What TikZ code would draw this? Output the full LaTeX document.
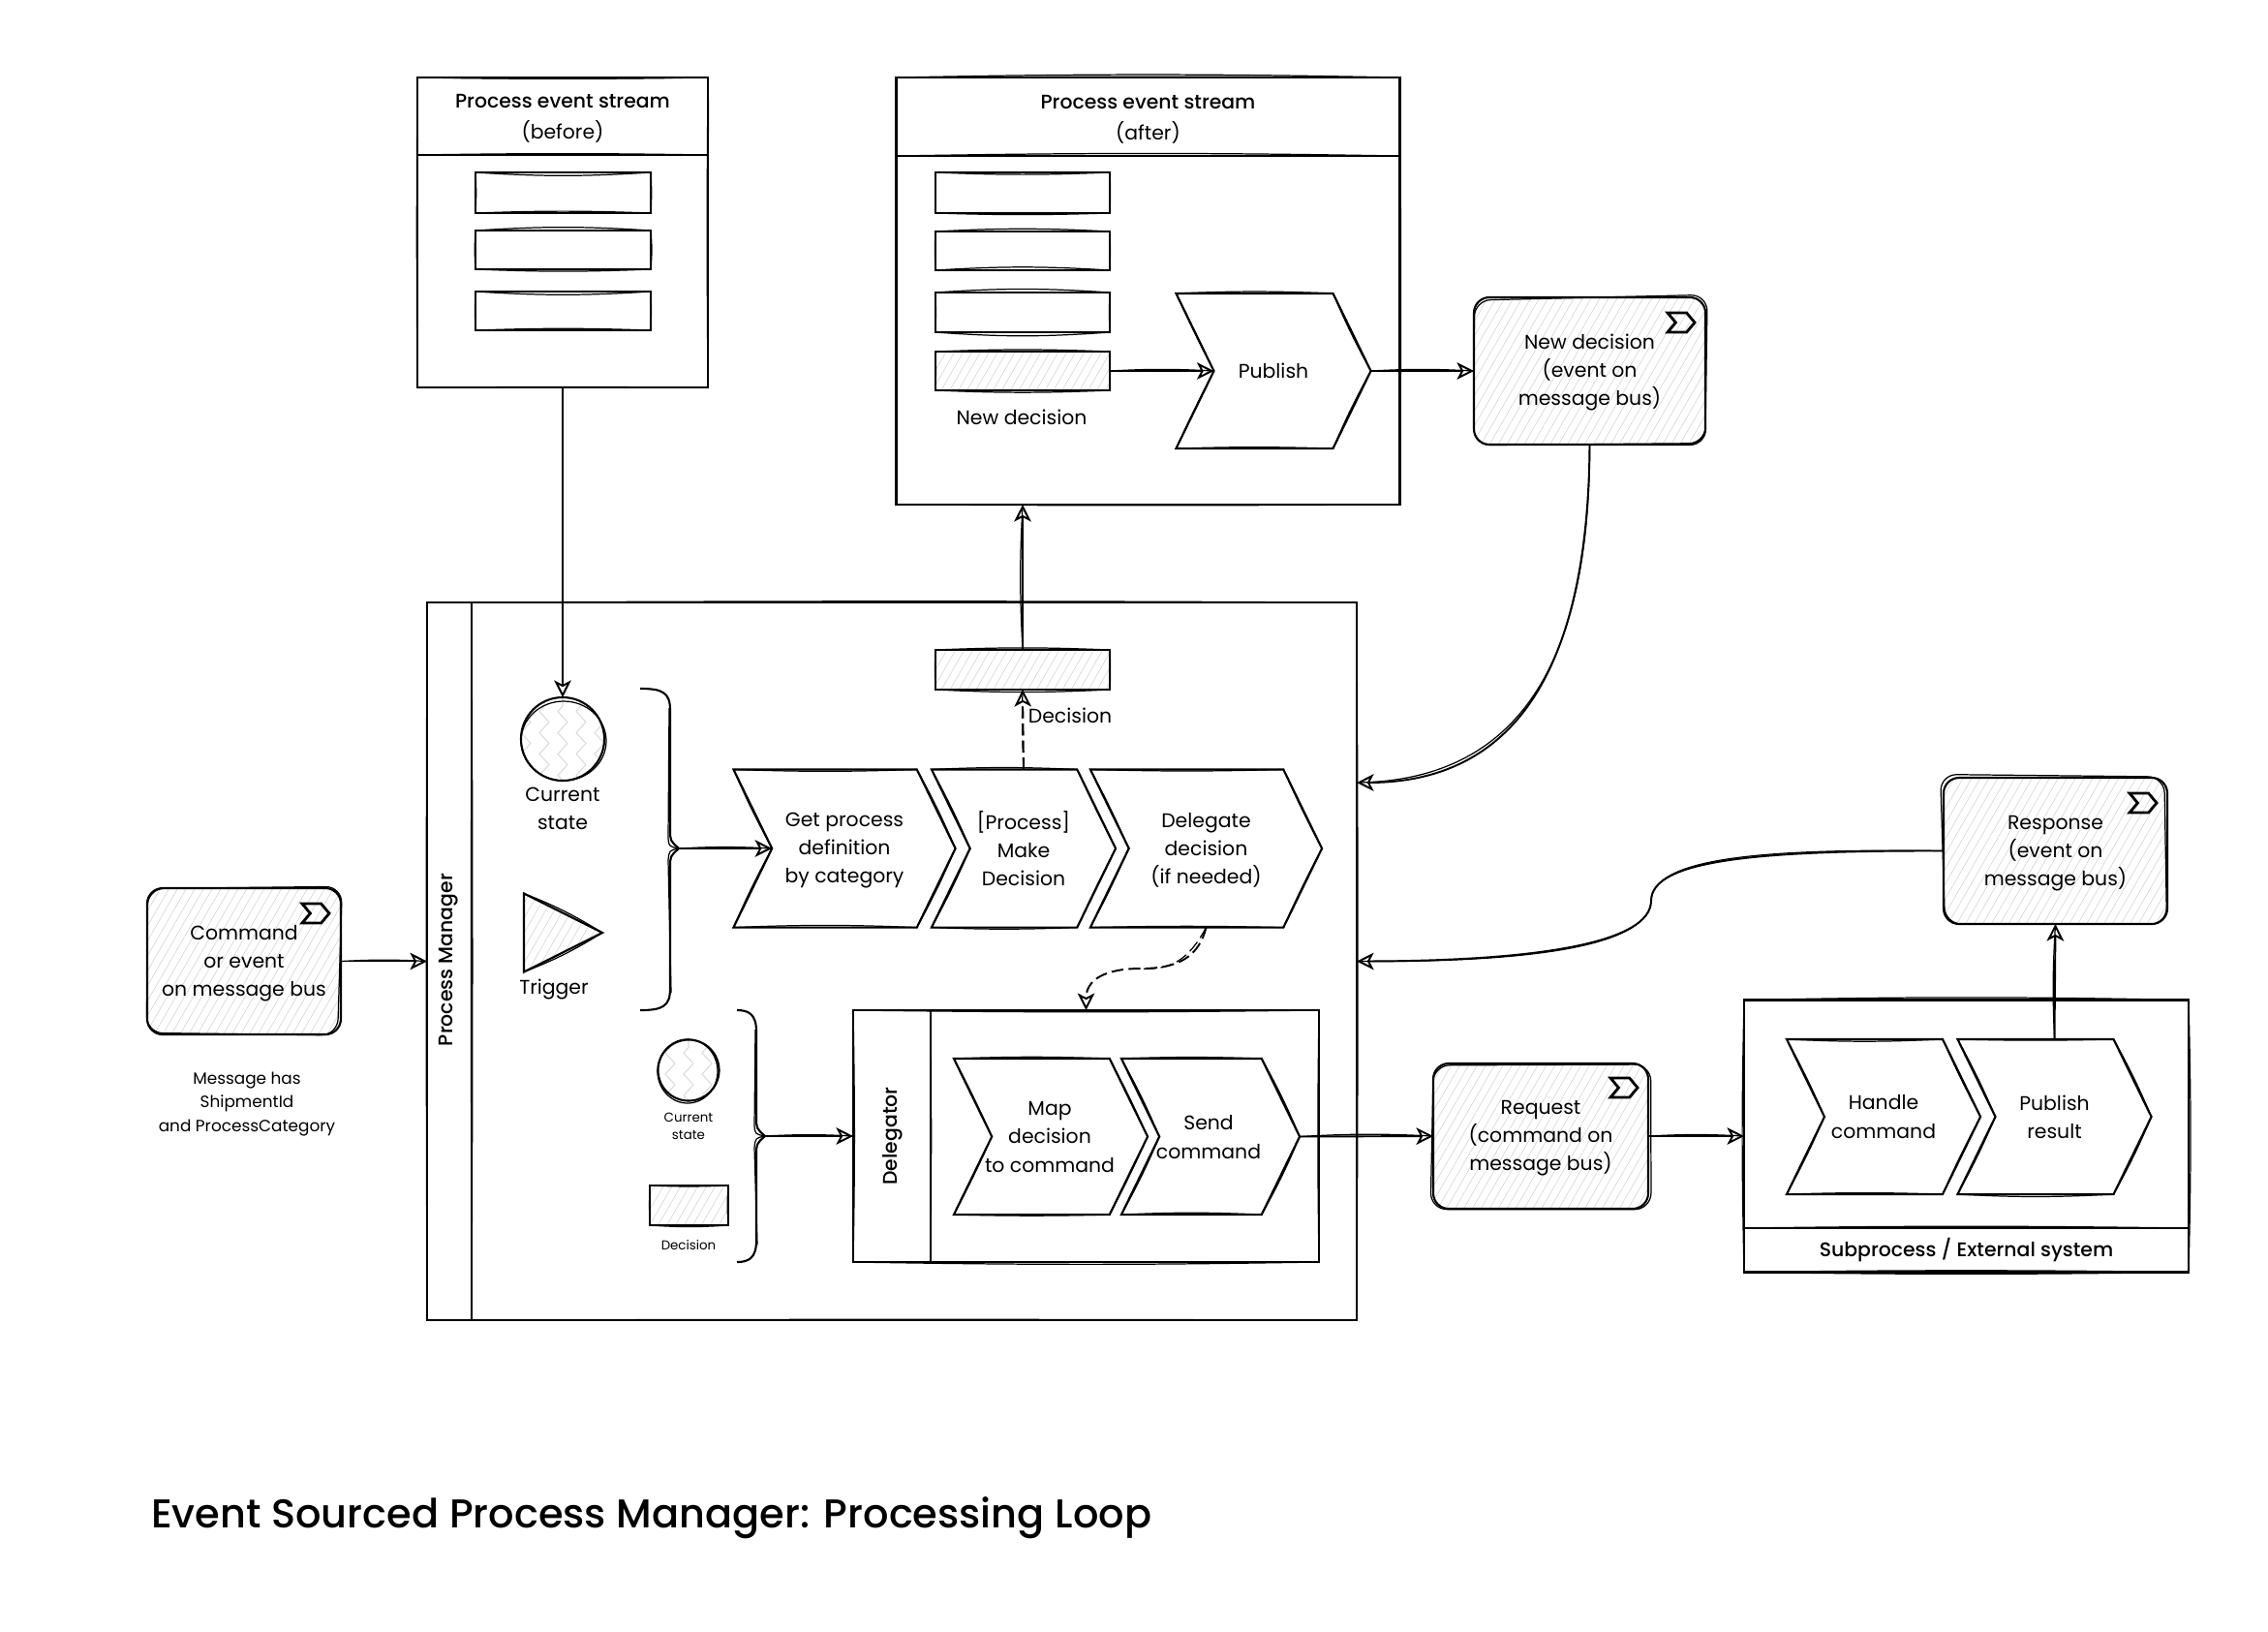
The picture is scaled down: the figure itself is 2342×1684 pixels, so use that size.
\documentclass[tikz,border=0pt]{standalone}
\usepackage{fontspec}
\setmainfont{Poppins}
\newfontfamily\medfont{Poppins Medium}
\usetikzlibrary{positioning, calc, arrows.meta, shapes.geometric, shapes.symbols, patterns.meta, decorations.pathmorphing}

\newcommand{\bodyfont}{\fontsize{5.8}{8.3}\selectfont}
\newcommand{\notefont}{\fontsize{4.8}{6.9}\selectfont}
\newcommand{\tinyfont}{\fontsize{3.8}{5.2}\selectfont}
\newcommand{\titlefont}{\fontsize{11.8}{14}\selectfont}
\newcommand{\firstline}{\vphantom{[}}

% bracket with a tip on the right: name, x start, x spine, y top, y tip, y bottom
\newcommand{\bracket}[6]{
    \draw[outline] (#2,#4) .. controls (#3-8,#4) and (#3,#4+4) .. (#3,#4+22)
        -- (#3,#5-20) .. controls (#3,#5-8) .. (#3+9,#5)
        .. controls (#3,#5+8) .. (#3,#5+20)
        -- (#3,#6-22) .. controls (#3,#6-4) and (#3-8,#6) .. (#2,#6);
    \draw[ghost] (#3-1,#4+20) -- (#3-2,#5-10) .. controls (#3-1,#5-2) .. (#3+9,#5)
        .. controls (#3-1,#5+2) .. (#3-2,#5+12) -- (#3+1,#6-18);
    \coordinate (#1) at (#3+9,#5);
}

% random bend of a second stroke: macro, largest bend
\newcommand{\pickbend}[2]{\pgfmathsetmacro#1{#2*(.4+.6*rnd)*ifthenelse(rnd<.5,1,-1)}}

% second pencil stroke on the sides of a box: node, bend
\newcommand{\roughbox}[2]{
    \pickbend\bnda{#2}
    \pickbend\bndb{#2}
    \pickbend\bndc{#2}
    \pickbend\bndd{#2}
    \draw[ghost] (#1.north west) to[bend left=\bnda] (#1.north east)
        to[bend left=\bndb] (#1.south east)
        to[bend left=\bndc] (#1.south west)
        to[bend left=\bndd] (#1.north west);
}

% same for a chevron
\newcommand{\roughchev}[2]{
    \pickbend\bnda{#2}
    \pickbend\bndb{#2}
    \pickbend\bndc{#2}
    \pickbend\bndd{#2}
    \draw[ghost] (#1.north west) to[bend left=\bnda] (#1.north east)
        to[bend left=\bndb] (#1.east)
        to[bend left=\bndb] (#1.south east)
        to[bend left=\bndc] (#1.south west)
        to[bend left=\bndd] (#1.west)
        to[bend left=\bndd] (#1.north west);
}

% second stroke on a rounded box
\newcommand{\roughmsg}[1]{
    \draw[ghost, rounded corners=.17cm]
        ($(#1.north west)+({rnd*7-3.5},{rnd*7-3.5})$) -- ($(#1.north east)+({rnd*7-3.5},{rnd*7-3.5})$)
        -- ($(#1.south east)+({rnd*7-3.5},{rnd*7-3.5})$) -- ($(#1.south west)+({rnd*7-3.5},{rnd*7-3.5})$) -- cycle;
}

\tikzset{
    outline/.style={draw, line width=.6pt},
    ghost/.style={draw, line width=.35pt},
    wh/.style 2 args={minimum width=#1*0.01cm, minimum height=#2*0.01cm},
    box/.style={outline, rectangle, anchor=north west, inner sep=0, outer sep=0, align=center, font=\bodyfont},
    hatch/.style={pattern={Lines[angle=60, distance=2.2pt, line width=.12pt]}, pattern color=black!22},
    msgbox/.style={box, hatch, rounded corners=.16cm},
    chevron/.style={outline, shape=signal, signal to=east, signal from=west, signal pointer angle=128,
        inner sep=0, outer sep=0, align=center, font=\bodyfont},
    flagicon/.style={draw, line width=.8pt, shape=signal, signal to=east, signal from=west, signal pointer angle=100,
        inner sep=0, outer sep=0, minimum width=.28cm, minimum height=.2cm},
    statecircle/.style={outline, circle, inner sep=0, outer sep=0,
        path picture={\foreach \i in {-2,...,2}
            \draw[black!14, line width=.3pt, decorate, decoration={zigzag, segment length=.22cm, amplitude=.05cm}]
                ($(path picture bounding box.south)+(\i*.19cm,0)$) -- ($(path picture bounding box.north)+(\i*.19cm,0)$);}},
    txt/.style={inner sep=0, outer sep=0, align=center, font=\bodyfont},
    link/.style={line width=.55pt, -{Stealth[fill=white, length=5pt, width=5pt, inset=1.3pt]}},
    dashlink/.style={link, dash pattern=on 3.5pt off 1.5pt}
}

\begin{document}
\begin{tikzpicture}[x=0.01cm, y=-0.01cm]
    \pgfmathsetseed{11}
    \useasboundingbox (0,0) rectangle (2342,1684);

    % stream before
    \node (beforebody) [box, wh={300}{320}] at (431,80) {};
    \node (beforehead) [box, wh={300}{80}] at (431,80) {\firstline{\medfont Process event stream}\\[.8pt](before)};
    \node (beforeone) [box, wh={181}{42}] at (491,178) {};
    \node (beforetwo) [box, wh={181}{40}] at (491,238) {};
    \node (beforethree) [box, wh={181}{40}] at (491,301) {};

    % stream after
    \node (afterbody) [box, wh={520}{441}] at (925.5,80) {};
    \node (afterhead) [box, wh={520}{81}] at (925.5,80) {\firstline{\medfont Process event stream}\\[.8pt](after)};
    \node (afterone) [box, wh={180}{42}] at (966,178) {};
    \node (aftertwo) [box, wh={180}{40}] at (966,239) {};
    \node (afterthree) [box, wh={180}{41}] at (966,302) {};
    \node (afternew) [box, hatch, wh={180}{40}] at (966,363) {};
    \node (afternewlabel) [txt] at (1055,431) {New decision};
    \node (publish) [chevron, minimum width=2.01cm, minimum height=1.6cm] at (1315,383) {Publish};

    % new decision on the bus
    \node (newmsg) [msgbox, wh={239}{152}] at (1522,307) {\firstline New decision\\(event on\\message bus)};
    \node (newflag) [flagicon] at (1736,333) {};

    % process manager
    \node (pmbox) [box, wh={914}{741}] at (487,622) {};
    \node (pmstrip) [box, wh={46}{741}] at (441,622) {};
    \node (pmlabel) [txt, rotate=90, font=\bodyfont\medfont] at (463,991) {Process Manager};

    \node (bigstate) [statecircle, minimum size=.86cm] at (581,763) {};
    \node (bigstatelabel) [txt] at (581,835) {Current\\state};
    \node (trigger) [outline, hatch, isosceles triangle, isosceles triangle stretches, shape border rotate=0,
        minimum width=.81cm, minimum height=.81cm, inner sep=0, outer sep=0, anchor=apex] at (622,963) {};
    \node (triggerlabel) [txt] at (572,1021) {Trigger};
    \bracket{inbrace}{661}{692}{711}{876}{1043}

    \node (getdef) [chevron, minimum width=2.29cm, minimum height=1.63cm] at (872,876) {\firstline Get process\\definition\\by category};
    \node (makedec) [chevron, minimum width=1.9cm, minimum height=1.63cm] at (1057,876) {[Process]\\Make\\Decision};
    \node (delegate) [chevron, minimum width=2.39cm, minimum height=1.63cm] at (1245.5,876) {\firstline Delegate\\decision\\(if needed)};

    \node (decrect) [box, hatch, wh={180}{41}] at (966,671) {};
    \node (declabel) [txt] at (1105,739) {Decision};

    % delegator
    \node (dlgbox) [box, wh={481}{260}] at (881,1043) {};
    \node (dlgstrip) [box, wh={80}{260}] at (881,1043) {};
    \node (dlglabel) [txt, rotate=90, font=\bodyfont\medfont] at (921.5,1173) {Delegator};
    \node (mapcmd) [chevron, minimum width=2cm, minimum height=1.61cm] at (1085,1173.5) {};
    \node (maptext) [txt] at (1084,1174) {Map\\decision\\to command};
    \node (sendcmd) [chevron, minimum width=1.84cm, minimum height=1.61cm] at (1250,1173.5) {};
    \node (sendtext) [txt] at (1248,1174) {Send\\command};

    \node (smallstate) [statecircle, minimum size=.63cm] at (711,1105) {};
    \node (smallstatelabel) [txt, font=\tinyfont] at (711,1163) {Current\\state};
    \node (smalldec) [box, hatch, wh={81}{41}] at (671,1224) {};
    \node (smalldeclabel) [txt, font=\tinyfont] at (711,1285) {Decision};
    \bracket{dlgbrace}{761}{781}{1043}{1173}{1303}

    % incoming message
    \node (cmdmsg) [msgbox, wh={200}{151}] at (152,917) {\firstline Command\\or event\\on message bus};
    \node (cmdflag) [flagicon] at (326,943) {};
    \node (cmdnote) [txt, font=\notefont] at (255,1140) {Message has\\ShipmentId\\and ProcessCategory};

    % request and subprocess
    \node (reqmsg) [msgbox, wh={222}{150}] at (1480,1098) {\firstline Request\\(command on\\message bus)};
    \node (reqflag) [flagicon] at (1677,1123) {};
    \node (subbody) [box, wh={459}{281}] at (1801,1032.5) {};
    \node (subfoot) [box, wh={459}{45.5}, font=\bodyfont\medfont] at (1801,1268) {Subprocess / External system};
    \node (handle) [chevron, minimum width=2cm, minimum height=1.6cm] at (1945,1153) {Handle\\command};
    \node (pubresult) [chevron, minimum width=2cm, minimum height=1.6cm] at (2121.5,1153) {Publish\\result};

    % response
    \node (respmsg) [msgbox, wh={231}{151}] at (2007,803) {\firstline Response\\(event on\\message bus)};
    \node (respflag) [flagicon] at (2213,829) {};

    % title
    \node (title) [inner sep=0, outer sep=0, anchor=west, font=\titlefont\medfont] at (156,1567) {Event Sourced Process Manager: Processing Loop};

    % second strokes
    \foreach \n/\b in {beforebody/.8, beforehead/1.5, beforeone/4, beforetwo/5, beforethree/4,
        afterbody/.6, afterhead/1.2, afterone/3, aftertwo/4, afterthree/5, afternew/4,
        pmbox/.3, pmstrip/.4, decrect/3, dlgbox/1.2, dlgstrip/.8, smalldec/4, subbody/1.5, subfoot/1.5}
        \roughbox{\n}{\b};
    \foreach \n/\b in {publish/3, getdef/3, makedec/3, delegate/2, mapcmd/3, sendcmd/3, handle/3, pubresult/3}
        \roughchev{\n}{\b};
    \foreach \n in {newmsg, cmdmsg, reqmsg, respmsg}
        \roughmsg{\n};
    \draw[ghost] (bigstate.center)+(1,2) circle[x radius=44, y radius=41];
    \draw[ghost] (smallstate.center)+(-1,1) circle[x radius=31, y radius=33];
    \draw[ghost] (trigger.left corner) to[bend left=5] (trigger.apex);
    \draw[ghost] (trigger.apex) to[bend left=5] (trigger.right corner);

    % connectors
    \coordinate (pmupper) at (1401,808);
    \draw[link] (beforebody.south) -- (bigstate.north);
    \draw[link] (decrect.north) -- (decrect.north |- afterbody.south);
    \draw[dashlink] (makedec.north) -- (decrect.south);
    \draw[link] (afternew.east) -- (publish.west);
    \draw[link] (publish.east) -- (newmsg.west);
    \draw[link] (newmsg.south) .. controls (1640,690) and (1565,808) .. (pmupper);
    \draw[link] (respmsg.west) .. controls (1815,878) and (1705,888) .. (1705,930)
        .. controls (1705,972) and (1595,992) .. (pmbox.east);
    \draw[link] (cmdmsg.east) -- (pmstrip.west);
    \draw[link] (inbrace) -- (getdef.west);
    \draw[link] (dlgbrace) -- (dlgstrip.west);
    \draw[dashlink] (delegate.south) .. controls (1238,987) and (1218,1000) .. (1178,1000)
        .. controls (1140,1000) and (1121.5,1012) .. (dlgbox.north);
    \draw[link] (sendcmd.east) -- (reqmsg.west);
    \draw[link] (reqmsg.east) -- (subbody.west);
    \draw[link] (pubresult.north) -- (respmsg.south);

    % second strokes of the connectors
    \foreach \a/\b in {decrect.north/{decrect.north |- afterbody.south}, afternew.east/publish.west, publish.east/newmsg.west,
        cmdmsg.east/pmstrip.west, inbrace/getdef.west, dlgbrace/dlgstrip.west, sendcmd.east/reqmsg.west,
        reqmsg.east/subbody.west, pubresult.north/respmsg.south}
        \draw[ghost] (\a) to[bend left=3] (\b);
    \draw[ghost] (newmsg.south) .. controls (1642,692) and (1563,806) .. (pmupper);
    \draw[ghost] (respmsg.west) .. controls (1815,876) and (1707,886) .. (1705,930)
        .. controls (1703,974) and (1595,994) .. (pmbox.east);
    \draw[ghost, dash pattern=on 3.5pt off 1.5pt] (delegate.south) .. controls (1228,990) and (1210,1002) .. (1178,1000);
    \draw[ghost, dash pattern=on 3.5pt off 1.5pt] (makedec.north) to[bend left=2] (decrect.south);
\end{tikzpicture}
\end{document}
